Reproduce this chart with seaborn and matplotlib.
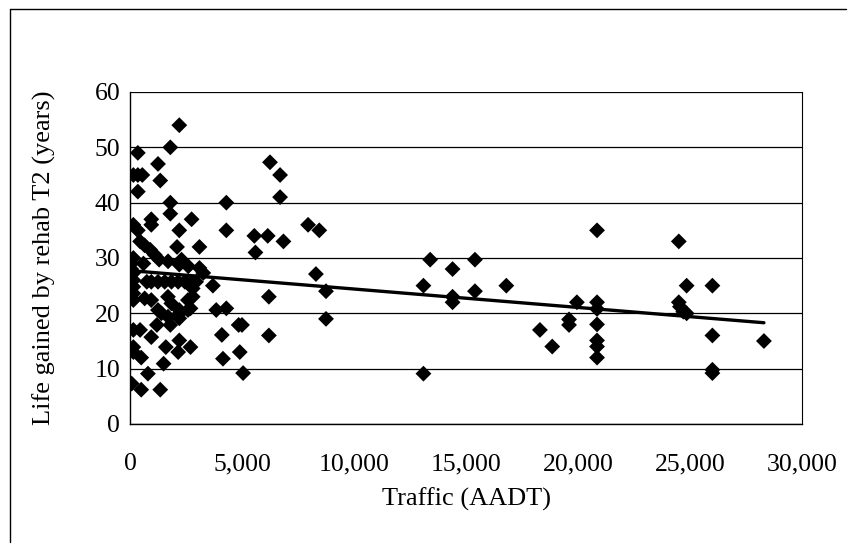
import matplotlib
matplotlib.use("Agg")
import matplotlib.pyplot as plt
import matplotlib.ticker as mticker
from matplotlib.lines import Line2D
import seaborn as sns
import pandas as pd

# Data
traffic = [
    2200, 1800, 350, 1250, 1350, 150, 350, 550, 350, 1800, 1800, 950, 950, 2200, 2750,
    150, 350, 450, 650, 900, 1100, 1300, 2100, 3100, 150, 600, 1700, 2300, 2200, 2600,
    3100, 3270, 150, 150, 150, 150, 150, 750, 950, 1250, 1550, 1850, 2150, 2450, 2750,
    2950, 3700, 655, 1695, 1844, 2587, 2587, 2141, 1695, 1249, 950, 2800, 2800, 2700,
    2200, 2200, 1800, 1400, 1200, 150, 450, 950, 150, 150, 500, 1600, 2200, 2150, 2700,
    1500, 800, 75, 500, 1350, 60, 60, 60,
    3850, 4300, 4100, 4150, 4850, 5000, 4900, 5050, 4300, 4300, 5550, 6150, 6850, 5600,
    6250, 6700, 6700, 7950, 8450, 8300, 8750, 8750, 6200, 6200,
    13100, 13100, 13400, 14400, 14400, 14400, 15400, 15400, 16800, 18300, 18850, 19600,
    19600, 19950, 20850, 20850, 20850, 20850, 20850, 20850, 20850, 24500, 24500, 24550,
    24700, 24850, 24850, 26000, 26000, 26000, 26000, 28300,
]
life = [
    54, 50, 49, 47, 44, 45, 45, 45, 42, 40, 38, 37, 36, 35, 37,
    36, 35, 33, 32.3, 31.5, 30.6, 29.7, 32, 32, 30, 29, 29.4, 29.7, 28.8, 28.5,
    28.2, 27.3, 27.3, 26, 24.8, 23.6, 22.4, 25.7, 25.7, 25.7, 25.7, 25.7, 25.7, 25.7, 25.7,
    25.7, 25, 22.7, 23, 21.8, 22.4, 20.6, 19.7, 19.4, 20.6, 22.4, 24.5, 23, 20.9,
    20.6, 19.1, 17.9, 20, 17.9, 17, 17, 15.7, 13.9, 13, 12, 13.9, 15.1, 13, 13.9,
    10.9, 9.1, 7.3, 6.2, 6.2, 28, 25, 29,
    20.6, 20.9, 16.1, 11.8, 17.9, 17.9, 13, 9.2, 40, 35, 34, 34, 33, 31,
    47.3, 45, 41, 36, 35, 27.1, 24, 19, 23, 16,
    9.1, 25, 29.7, 28, 23, 22, 29.7, 24, 25, 17, 14, 18.9,
    17.9, 22, 35, 22, 20.8, 18, 15.1, 14, 12, 33, 22, 21.2,
    20.3, 25, 20, 25, 16, 9.8, 9.2, 15,
]
trend_x = [75, 28300]
trend_y = [27.7, 18.3]

x_ticks = [0, 5000, 10000, 15000, 20000, 25000, 30000]
y_ticks = [0, 10, 20, 30, 40, 50, 60]

df = pd.DataFrame({"Traffic": traffic, "Life": life})
trend = pd.DataFrame({"Traffic": trend_x, "Life": trend_y})

sns.set_theme(style="white")
plt.rcParams["font.family"] = ["Liberation Serif", "DejaVu Serif"]

fig = plt.figure(figsize=(8.57, 5.45), dpi=100)
ax = fig.add_axes([130 / 857, 1 - 424 / 545, 672 / 857, 332 / 545])

ax.set_axisbelow(True)
ax.yaxis.grid(True, color="black", linewidth=0.9)
ax.xaxis.grid(False)

sns.scatterplot(data=df, x="Traffic", y="Life", marker="D", s=65, color="black",
                edgecolor="none", ax=ax, zorder=3)
sns.lineplot(data=trend, x="Traffic", y="Life", color="black", linewidth=2.4, ax=ax,
             zorder=4)

ax.set_xlim(0, 30000)
ax.set_ylim(0, 60)
ax.set_xticks(x_ticks)
ax.set_yticks(y_ticks)
ax.xaxis.set_major_formatter(mticker.FuncFormatter(lambda v, p: f"{int(v):,}"))
ax.tick_params(axis="both", direction="out", length=4, width=1, color="black",
               labelsize=18.5, labelcolor="black")
ax.tick_params(axis="y", pad=3)
ax.tick_params(axis="x", pad=17)
ax.set_xlabel("Traffic (AADT)", fontsize=19, color="black", labelpad=9)
ax.set_ylabel("Life gained by rehab T2 (years)", fontsize=19, color="black", labelpad=28)

for sp in ax.spines.values():
    sp.set_visible(True)
    sp.set_color("black")
    sp.set_linewidth(1.0)
ax.spines["top"].set_visible(False)
ax.spines["right"].set_linewidth(0.8)

# outer border (top and left, as in the scanned figure)
fig.add_artist(Line2D([10 / 857, 846 / 857], [1 - 9 / 545, 1 - 9 / 545],
                      transform=fig.transFigure, color="black", linewidth=1.0))
fig.add_artist(Line2D([10 / 857, 10 / 857], [1 - 9 / 545, 1 - 542 / 545],
                      transform=fig.transFigure, color="black", linewidth=1.0))

fig.savefig("out.png", dpi=100, facecolor="white")
